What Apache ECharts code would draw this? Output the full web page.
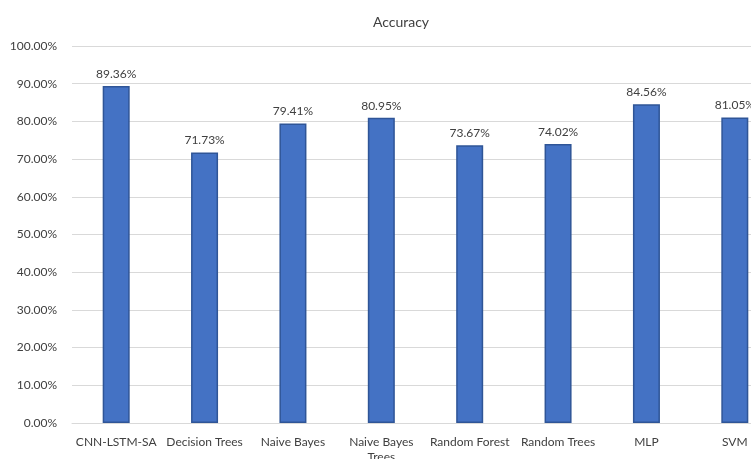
<!DOCTYPE html>
<html>
<head>
<meta charset="utf-8">
<script src="https://cdn.jsdelivr.net/npm/echarts@6/dist/echarts.min.js"></script>
<style>
  html, body { margin: 0; padding: 0; background: #fff; }
  #chart { width: 751px; height: 459px; }
</style>
</head>
<body>
<div id="chart"></div>
<script>
const models = ['CNN-LSTM-SA', 'Decision Trees', 'Naive Bayes', 'Naive Bayes\nTrees', 'Random Forest', 'Random Trees', 'MLP', 'SVM'];
const accuracy = [89.36, 71.73, 79.41, 80.95, 73.67, 74.02, 84.56, 81.05];
const yTicks = [0, 10, 20, 30, 40, 50, 60, 70, 80, 90, 100];

const chart = echarts.init(document.getElementById('chart'));

const option = {
  animation: false,
  textStyle: { fontFamily: 'Lato, sans-serif' },
  title: {
    text: 'Accuracy',
    left: 396,
    top: 10,
    textAlign: 'center',
    textStyle: { fontSize: 14, fontWeight: 'normal', color: '#404040', fontFamily: 'Lato, sans-serif' },
  },
  grid: {
    left: 72,
    top: 46,
    width: 707,
    bottom: 36,
    containLabel: false,
    outerBoundsMode: 'none',
  },
  xAxis: {
    type: 'category',
    data: models,
    axisLine: { lineStyle: { color: '#d9d9d9', width: 1 } },
    axisTick: { show: false },
    axisLabel: { color: '#404040', fontSize: 12, margin: 12, lineHeight: 15, interval: 0 },
  },
  yAxis: {
    type: 'value',
    min: yTicks[0],
    max: yTicks[yTicks.length - 1],
    interval: 10,
    axisLine: { show: false },
    axisTick: { show: false },
    splitLine: { lineStyle: { color: '#d9d9d9', width: 1 } },
    axisLabel: {
      color: '#404040',
      fontSize: 12,
      margin: 15,
      formatter: (v) => v.toFixed(2) + '%',
    },
  },
  series: [
    {
      name: 'Accuracy',
      type: 'bar',
      data: accuracy,
      barWidth: 27,
      itemStyle: {
        color: '#4472c4',
        borderColor: '#2f5597',
        borderWidth: 1.5,
      },
      label: {
        show: true,
        position: 'top',
        distance: 6,
        color: '#404040',
        fontSize: 12,
        formatter: (p) => p.value.toFixed(2) + '%',
      },
    },
  ],
};

chart.setOption(option);
</script>
</body>
</html>
